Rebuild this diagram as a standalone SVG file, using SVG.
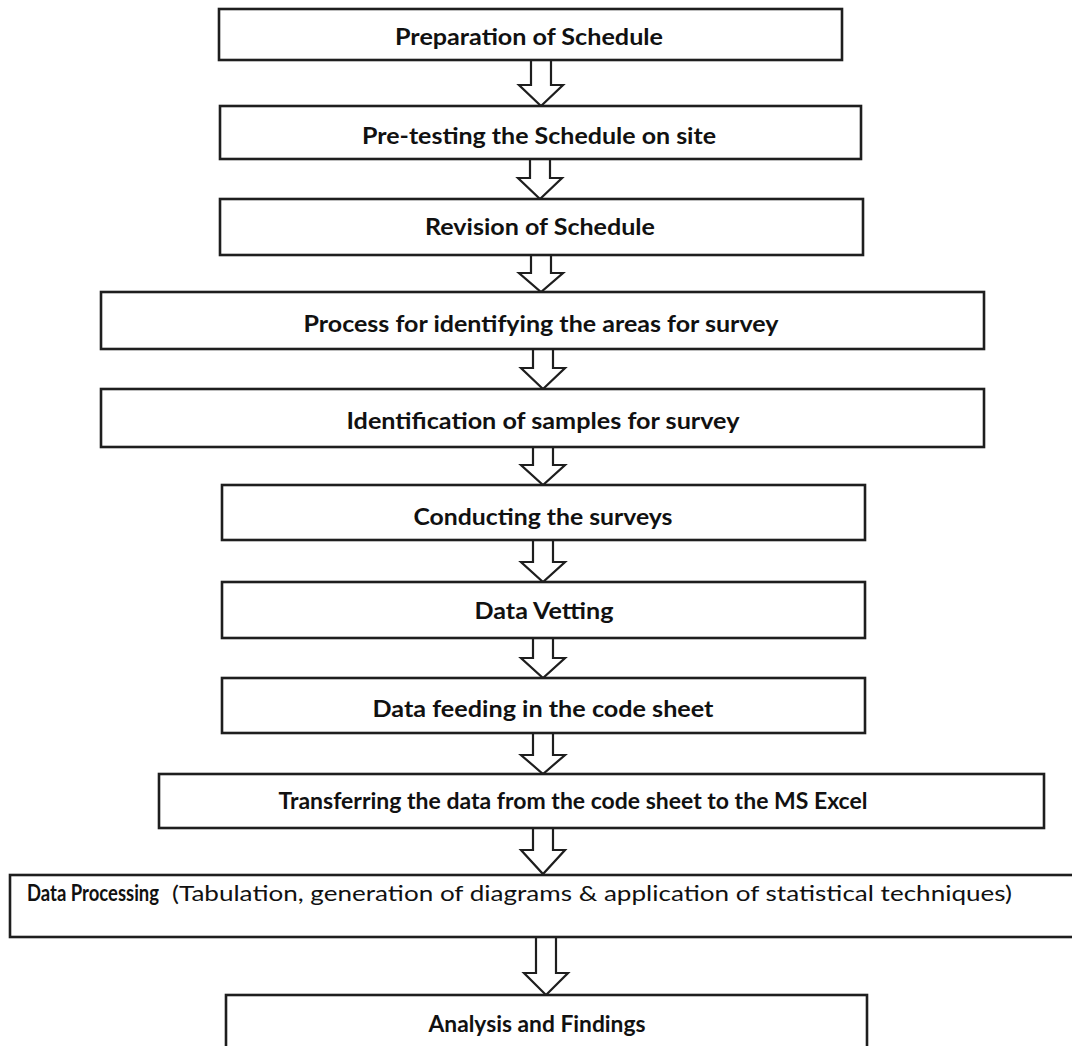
<svg xmlns="http://www.w3.org/2000/svg" width="1072" height="1046" viewBox="0 0 1072 1046">
  <style>
    .box { fill: #ffffff; stroke: #1e1e1e; stroke-width: 2.6; }
    .arrow { fill: #ffffff; stroke: #1e1e1e; stroke-width: 2.2; stroke-linejoin: miter; }
    .lbl { font-family: Lato, "Open Sans", "Liberation Sans", sans-serif; font-size: 22px; font-weight: bold; fill: #111111; text-anchor: middle; }
    .reg { font-weight: normal; }
  </style>
  <rect width="1072" height="1046" fill="#ffffff"/>

  <!-- Connectors: hollow block arrows between steps -->
  <g id="connectors">
    <path class="arrow" d="M531,60 V85 H519 L541,106 L563,85 H551 V60 Z"/>
    <path class="arrow" d="M530,159 V178 H518 L540,199 L562,178 H550 V159 Z"/>
    <path class="arrow" d="M531,255 V273 H519 L541,292 L563,273 H551 V255 Z"/>
    <path class="arrow" d="M533,349 V368 H521 L543,389 L565,368 H553 V349 Z"/>
    <path class="arrow" d="M533,447 V465 H521 L543,485 L565,465 H553 V447 Z"/>
    <path class="arrow" d="M533,540 V562 H521 L543,582 L565,562 H553 V540 Z"/>
    <path class="arrow" d="M533,638 V658 H521 L543,678 L565,658 H553 V638 Z"/>
    <path class="arrow" d="M533,733 V755 H521 L543,774 L565,755 H553 V733 Z"/>
    <path class="arrow" d="M533,828 V850 H521 L543,874 L565,850 H553 V828 Z"/>
    <path class="arrow" d="M536,937 V973 H524 L546,995 L568,973 H556 V937 Z"/>
  </g>

  <g id="step1">
    <rect class="box" x="219" y="9" width="623" height="51"/>
    <text class="lbl" x="529" y="45" textLength="268" lengthAdjust="spacingAndGlyphs">Preparation of Schedule</text>
  </g>
  <g id="step2">
    <rect class="box" x="220" y="106" width="641" height="53"/>
    <text class="lbl" x="539" y="144" textLength="354" lengthAdjust="spacingAndGlyphs">Pre-testing the Schedule on site</text>
  </g>
  <g id="step3">
    <rect class="box" x="220" y="199" width="643" height="56"/>
    <text class="lbl" x="540" y="235" textLength="230" lengthAdjust="spacingAndGlyphs">Revision of Schedule</text>
  </g>
  <g id="step4">
    <rect class="box" x="101" y="292" width="883" height="57"/>
    <text class="lbl" x="541" y="332" textLength="475" lengthAdjust="spacingAndGlyphs">Process for identifying the areas for survey</text>
  </g>
  <g id="step5">
    <rect class="box" x="101" y="389" width="883" height="58"/>
    <text class="lbl" x="543" y="429" textLength="393" lengthAdjust="spacingAndGlyphs">Identification of samples for survey</text>
  </g>
  <g id="step6">
    <rect class="box" x="222" y="485" width="643" height="55"/>
    <text class="lbl" x="543" y="525" textLength="259" lengthAdjust="spacingAndGlyphs">Conducting the surveys</text>
  </g>
  <g id="step7">
    <rect class="box" x="222" y="582" width="643" height="56"/>
    <text class="lbl" x="544" y="619" textLength="139" lengthAdjust="spacingAndGlyphs">Data Vetting</text>
  </g>
  <g id="step8">
    <rect class="box" x="222" y="678" width="643" height="55"/>
    <text class="lbl" x="543" y="717" textLength="341" lengthAdjust="spacingAndGlyphs">Data feeding in the code sheet</text>
  </g>
  <g id="step9">
    <rect class="box" x="159" y="774" width="885" height="54"/>
    <text class="lbl" x="573" y="809" textLength="589" lengthAdjust="spacingAndGlyphs">Transferring the data from the code sheet to the MS Excel</text>
  </g>
  <g id="step10">
    <rect class="box" x="10" y="875" width="1070" height="62"/>
    <text class="lbl" x="27" y="901" style="text-anchor:start" textLength="132" lengthAdjust="spacingAndGlyphs">Data Processing</text>
    <text class="lbl reg" x="172" y="901" style="text-anchor:start" textLength="840" lengthAdjust="spacingAndGlyphs">(Tabulation, generation of diagrams &amp; application of statistical techniques)</text>
  </g>
  <g id="step11">
    <rect class="box" x="226" y="995" width="641" height="60"/>
    <text class="lbl" x="537" y="1032" textLength="217" lengthAdjust="spacingAndGlyphs">Analysis and Findings</text>
  </g>
</svg>
